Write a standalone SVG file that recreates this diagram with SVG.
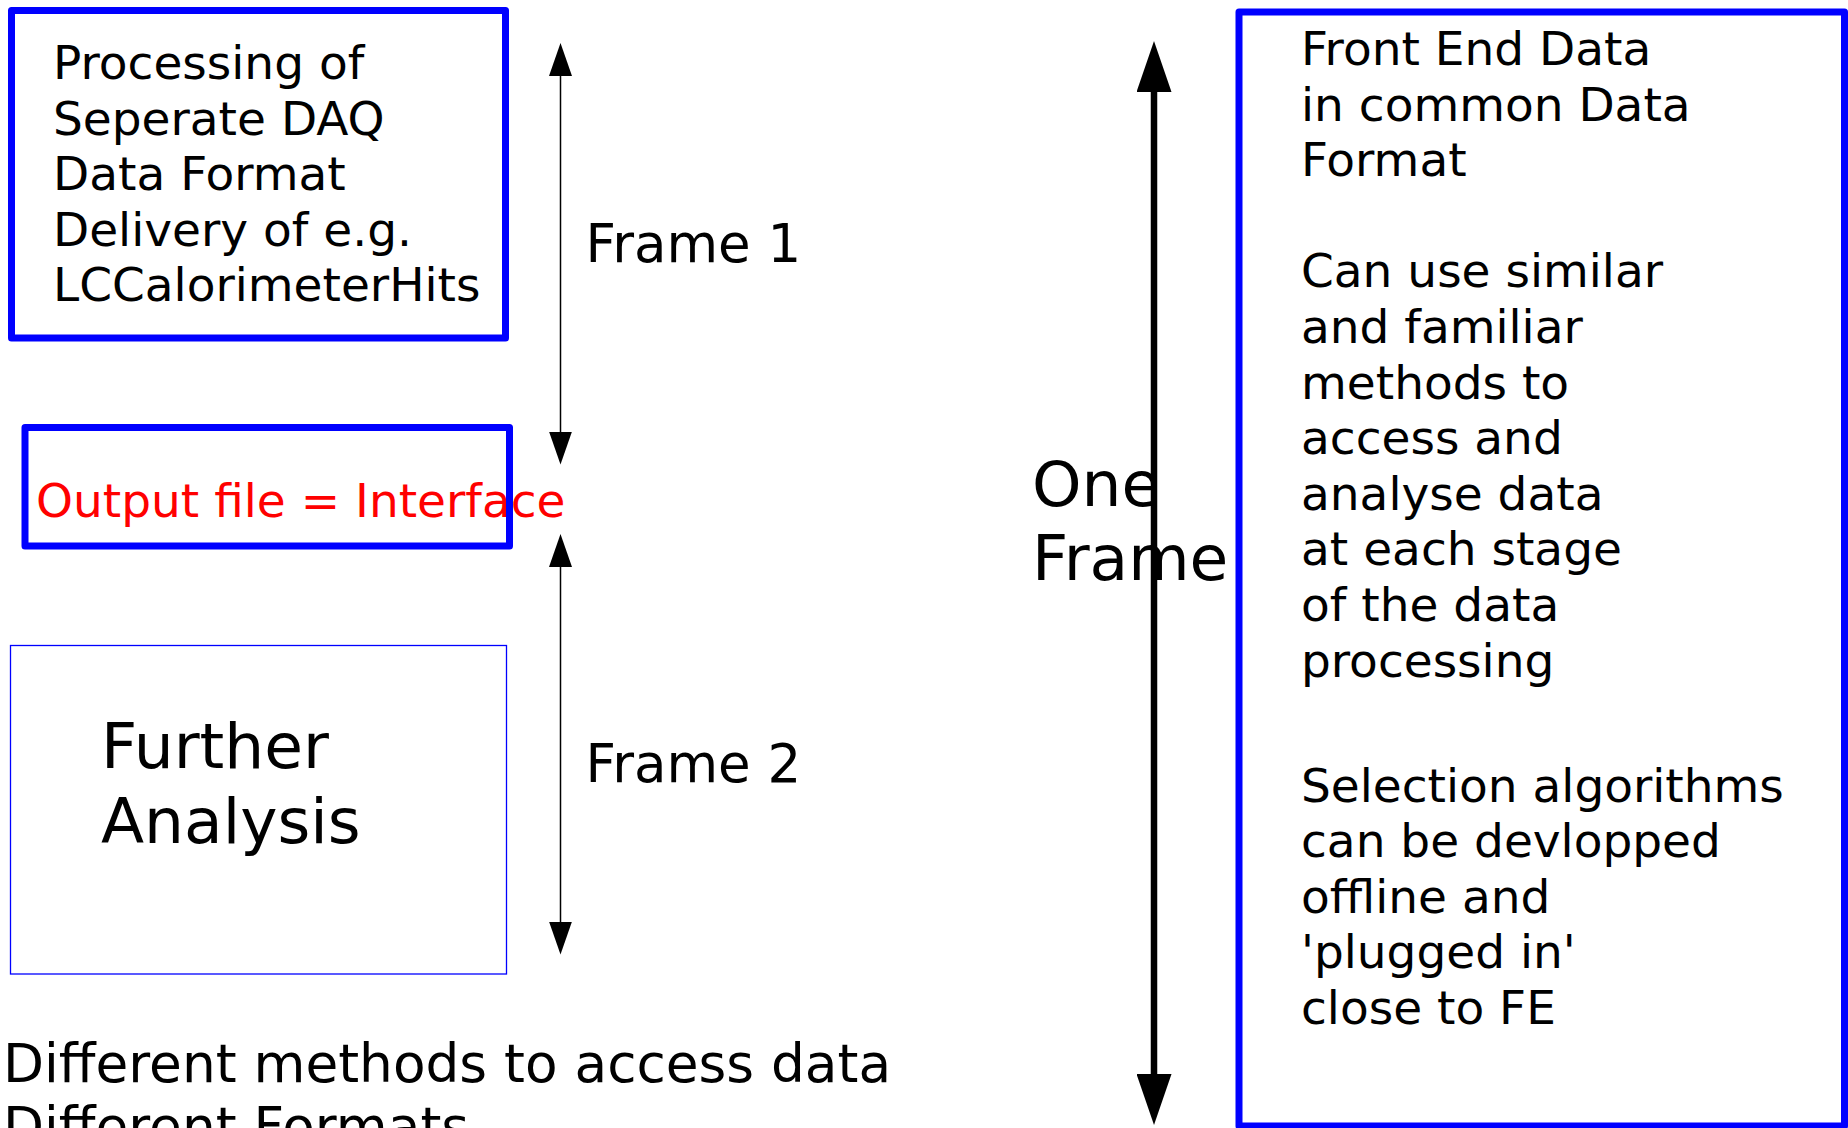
<svg xmlns="http://www.w3.org/2000/svg" width="1848" height="1128" viewBox="0 0 1848 1128">
<style>
text{font-family:"DejaVu Sans","Liberation Sans",sans-serif;fill:#000}
.box{fill:none;stroke:#0000ff;stroke-width:7;stroke-linejoin:round}
.thinbox{fill:none;stroke:#0000ff;stroke-width:1.3}
.t47{font-size:47px}
.red{fill:#ff0000}
.thin{stroke:#000;stroke-width:1.5;fill:none}
.thick{stroke:#000;stroke-width:6.5;fill:none}
</style>
<defs>
<marker id="ah" viewBox="0 0 33 23" refX="1" refY="11.5" markerWidth="33" markerHeight="23" markerUnits="userSpaceOnUse" orient="auto-start-reverse"><path d="M0,0 L33,11.5 L0,23 z" fill="#000"/></marker>
<marker id="ahb" viewBox="0 0 51 35" refX="2" refY="17.5" markerWidth="51" markerHeight="35" markerUnits="userSpaceOnUse" orient="auto-start-reverse"><path d="M0,0 L51,17.5 L0,35 z" fill="#000"/></marker>
</defs>
<g id="processing">
<rect class="box" x="11.5" y="10.5" width="494" height="327.5"/>
<text class="t47" x="53" y="79">Processing of</text>
<text class="t47" x="53" y="134.5">Seperate DAQ</text>
<text class="t47" x="53" y="190">Data Format</text>
<text class="t47" x="53" y="245.5">Delivery of e.g.</text>
<text class="t47" x="53" y="301">LCCalorimeterHits</text>
</g>
<g id="output">
<text class="t47 red" x="36" y="516.5">Output file = Interface</text>
<rect class="box" x="25" y="427.5" width="484.5" height="118.5"/>
</g>
<g id="further">
<rect class="thinbox" x="10.5" y="645.5" width="496" height="328.5"/>
<text x="101" y="768" font-size="63">Further</text>
<text x="101" y="843" font-size="63">Analysis</text>
</g>
<g id="frame1-label"><text x="585.5" y="262" font-size="53">Frame 1</text></g>
<g id="frame2-label"><text x="585.5" y="781.5" font-size="53">Frame 2</text></g>
<g id="one-frame-label">
<text x="1032" y="506" font-size="63">One</text>
<text x="1032" y="580" font-size="63">Frame</text>
</g>
<g id="fe-box">
<rect class="box" x="1239" y="12" width="605.5" height="1114"/>
<text class="t47" x="1301" y="65">Front End Data</text>
<text class="t47" x="1301" y="120.6">in common Data</text>
<text class="t47" x="1301" y="176.2">Format</text>
<text class="t47" x="1301" y="287.4">Can use similar</text>
<text class="t47" x="1301" y="343">and familiar</text>
<text class="t47" x="1301" y="398.6">methods to</text>
<text class="t47" x="1301" y="454.2">access and</text>
<text class="t47" x="1301" y="509.8">analyse data</text>
<text class="t47" x="1301" y="565.4">at each stage</text>
<text class="t47" x="1301" y="621">of the data</text>
<text class="t47" x="1301" y="676.6">processing</text>
<text class="t47" x="1301" y="801.5">Selection algorithms</text>
<text class="t47" x="1301" y="857">can be devlopped</text>
<text class="t47" x="1301" y="912.5">offline and</text>
<text class="t47" x="1301" y="968">'plugged in'</text>
<text class="t47" x="1301" y="1023.5">close to FE</text>
</g>
<g id="bottom-note">
<text x="3" y="1081.5" font-size="53.3">Different methods to access data</text>
<text x="3" y="1145" font-size="53.3">Different Formats</text>
</g>
<g id="connectors">
<line class="thin" x1="560.5" y1="75" x2="560.5" y2="432.5" marker-start="url(#ah)" marker-end="url(#ah)"/>
<line class="thin" x1="560.5" y1="566" x2="560.5" y2="922.5" marker-start="url(#ah)" marker-end="url(#ah)"/>
<line class="thick" x1="1154" y1="90" x2="1154" y2="1076" marker-start="url(#ahb)" marker-end="url(#ahb)"/>
</g>
</svg>
